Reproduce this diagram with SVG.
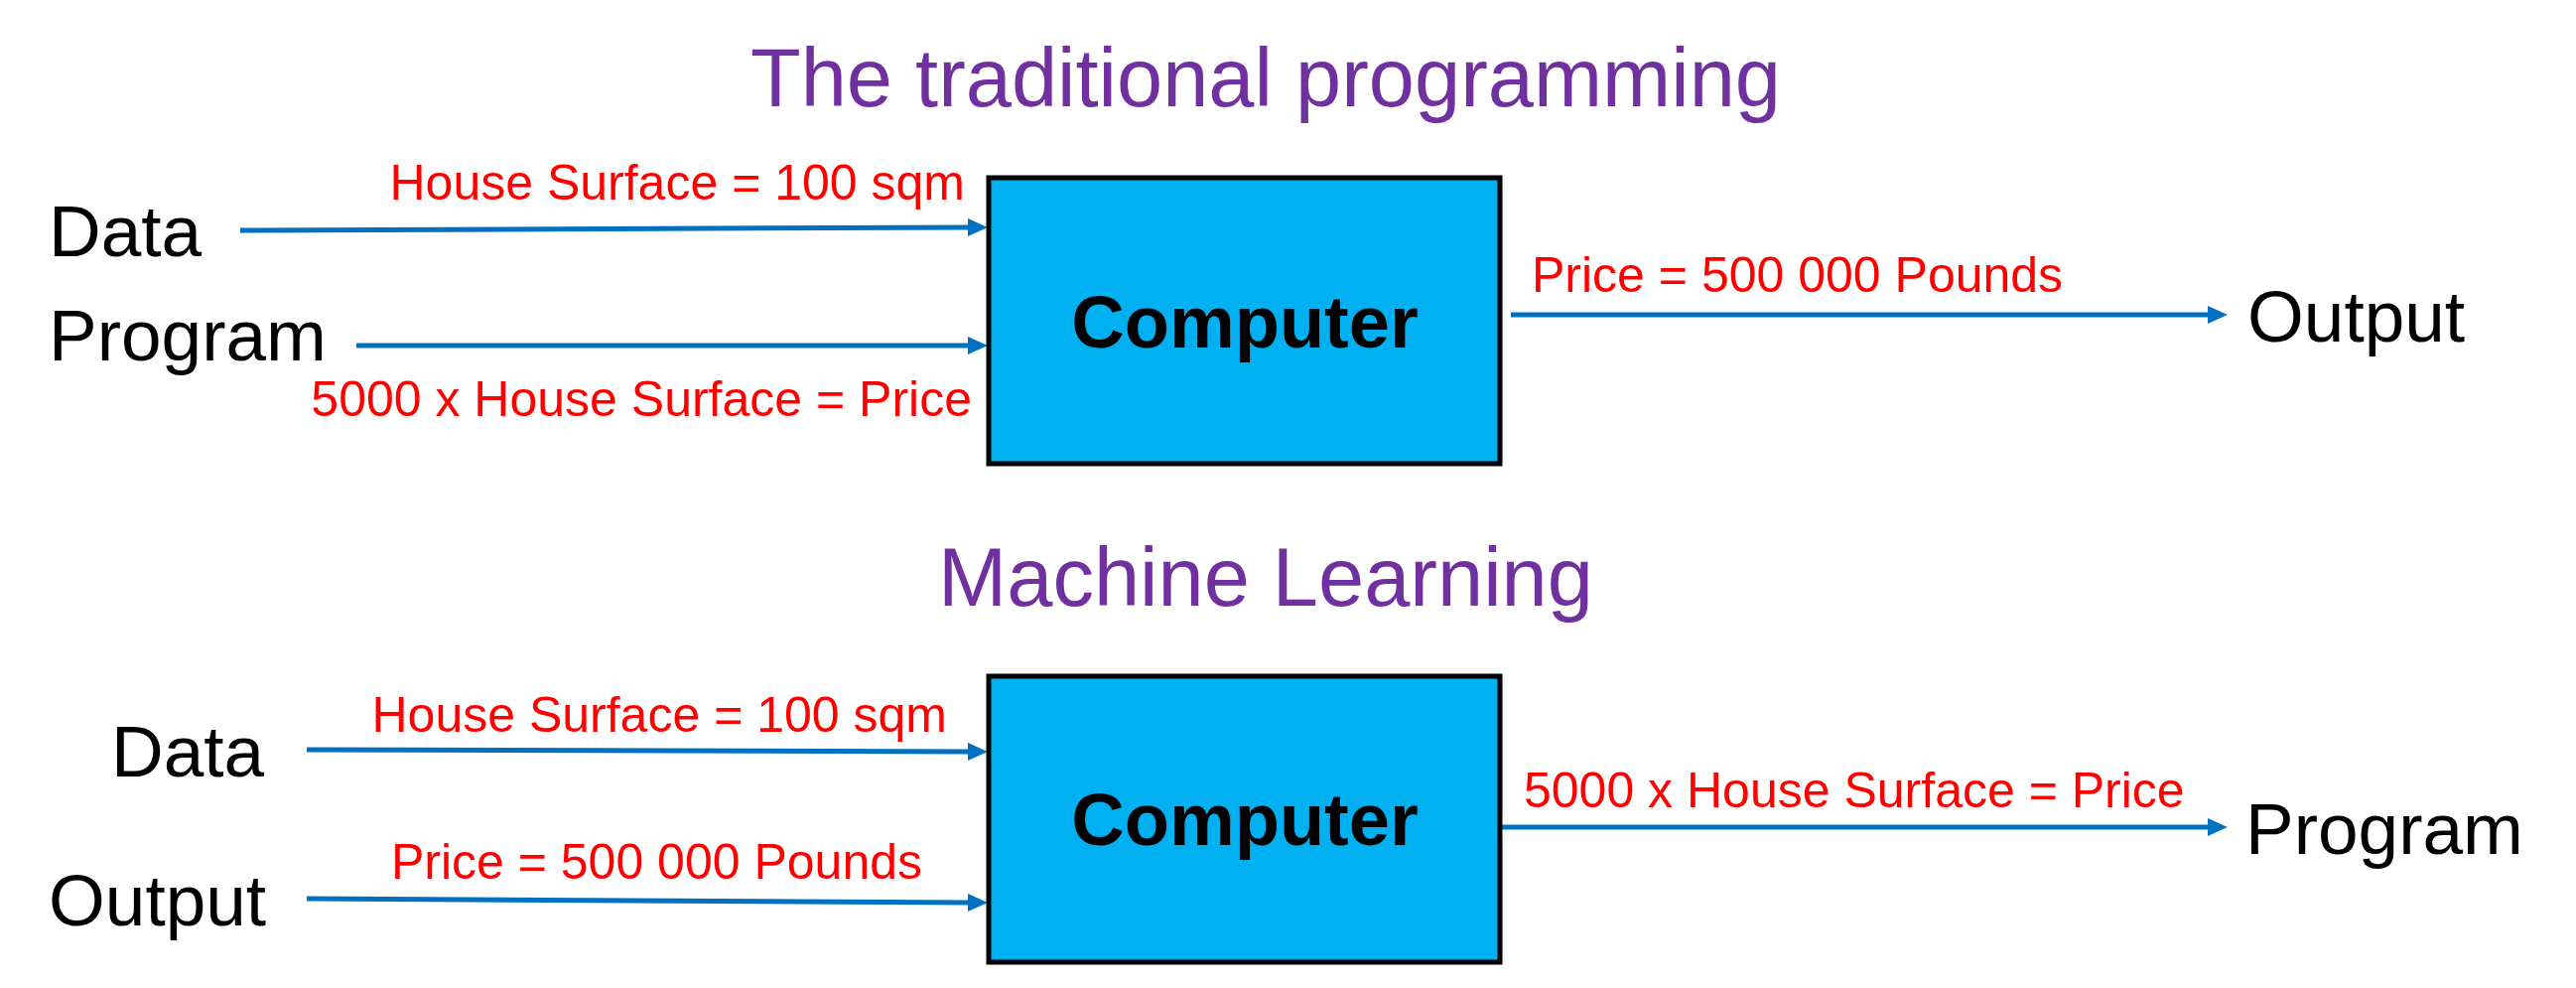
<svg xmlns="http://www.w3.org/2000/svg" width="2595" height="995" viewBox="0 0 2595 995">
<style>
  .title { font-family: "Liberation Sans", Arial, sans-serif; font-size: 83px; fill: #7030A0; text-anchor: middle; }
  .big { font-family: "Liberation Sans", Arial, sans-serif; font-size: 73px; fill: #000000; }
  .lbl { font-family: "Liberation Sans", Arial, sans-serif; font-size: 50px; fill: #FF0000; }
  .box { fill: #00B0F0; stroke: #000000; stroke-width: 5; }
  .comp { font-family: "Liberation Sans", Arial, sans-serif; font-size: 74px; font-weight: bold; fill: #000000; text-anchor: middle; }
  .conn { stroke: #0070C0; stroke-width: 5; fill: none; marker-end: url(#arr); }
</style>
<defs>
  <marker id="arr" markerUnits="userSpaceOnUse" viewBox="0 0 20 18" refX="1" refY="9" markerWidth="20" markerHeight="18" orient="auto">
    <path d="M0,0 L20,9 L0,18 Z" fill="#0070C0"/>
  </marker>
</defs>
<rect width="2595" height="995" fill="#FFFFFF"/>

<g id="title-traditional"><text class="title" x="1275" y="107">The traditional programming</text></g>
<g id="title-ml"><text class="title" x="1275" y="610">Machine Learning</text></g>

<g id="connectors">
  <line class="conn" x1="242" y1="232" x2="976" y2="229"/>
  <line class="conn" x1="359" y1="348" x2="976" y2="348"/>
  <line class="conn" x1="1522" y1="317" x2="2225" y2="317"/>
  <line class="conn" x1="309" y1="755" x2="976" y2="757"/>
  <line class="conn" x1="309" y1="905" x2="976" y2="909"/>
  <line class="conn" x1="1513" y1="833" x2="2225" y2="833"/>
</g>

<g id="edge-labels">
  <text class="lbl" x="972" y="201" text-anchor="end">House Surface = 100 sqm</text>
  <text class="lbl" x="979" y="419" text-anchor="end">5000 x House Surface = Price</text>
  <text class="lbl" x="1543" y="294">Price = 500 000 Pounds</text>
  <text class="lbl" x="954" y="737" text-anchor="end">House Surface = 100 sqm</text>
  <text class="lbl" x="929" y="885" text-anchor="end">Price = 500 000 Pounds</text>
  <text class="lbl" x="1535" y="813">5000 x House Surface = Price</text>
</g>

<g id="computer-1">
  <rect class="box" x="996" y="179" width="515" height="288"/>
  <text class="comp" x="1254" y="350">Computer</text>
</g>
<g id="computer-2">
  <rect class="box" x="996" y="681" width="515" height="288"/>
  <text class="comp" x="1254" y="851">Computer</text>
</g>

<g id="data-1"><text class="big" x="49" y="258">Data</text></g>
<g id="program-1"><text class="big" x="49" y="363">Program</text></g>
<g id="output-1"><text class="big" x="2264" y="344">Output</text></g>
<g id="data-2"><text class="big" x="112" y="782">Data</text></g>
<g id="output-2"><text class="big" x="49" y="932">Output</text></g>
<g id="program-2"><text class="big" x="2262" y="860">Program</text></g>
</svg>
